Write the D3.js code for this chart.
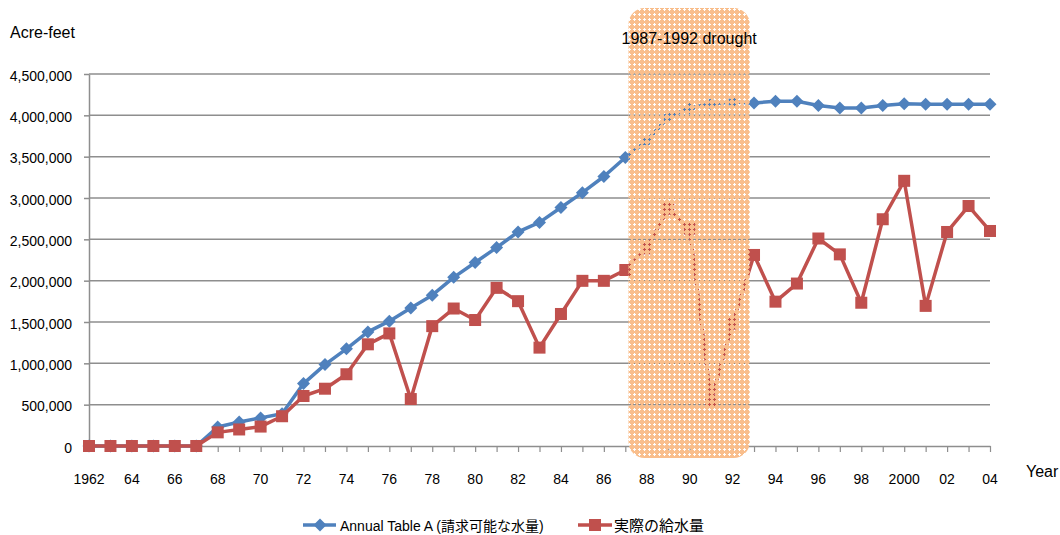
<!DOCTYPE html>
<html><head><meta charset="utf-8">
<script src="https://cdn.jsdelivr.net/npm/d3@7"></script>
<style>
body{margin:0;background:#fff}
svg{display:block}
text{font-family:"Liberation Sans",Arial,"Noto Sans CJK JP",sans-serif;fill:#000}
</style>
</head><body>
<svg id="c" width="1060" height="535"></svg>
<script>
// ---- data ----
const years = [1962,1963,1964,1965,1966,1967,1968,1969,1970,1971,1972,1973,1974,1975,1976,1977,1978,1979,1980,1981,1982,1983,1984,1985,1986,1987,1988,1989,1990,1991,1992,1993,1994,1995,1996,1997,1998,1999,2000,2001,2002,2003,2004];
const tableA = [0,0,0,0,0,0,230000,290000,340000,390000,755000,985000,1175000,1380000,1510000,1670000,1825000,2040000,2220000,2400000,2590000,2705000,2885000,3065000,3260000,3490000,3690000,3980000,4090000,4140000,4160000,4150000,4170000,4170000,4120000,4090000,4090000,4120000,4140000,4135000,4135000,4135000,4135000];
const delivered = [0,0,0,0,0,0,165000,200000,235000,360000,605000,693000,868000,1230000,1362000,568000,1450000,1663000,1524000,1913000,1752000,1190000,1597000,1998000,1998000,2129000,2391000,2870000,2630000,550000,1480000,2311000,1746000,1965000,2510000,2318000,1733000,2743000,3208000,1695000,2589000,2903000,2601000];
const yTicks = [0,500000,1000000,1500000,2000000,2500000,3000000,3500000,4000000,4500000];
const xTickYears = [1962,1964,1966,1968,1970,1972,1974,1976,1978,1980,1982,1984,1986,1988,1990,1992,1994,1996,1998,2000,2002,2004];
const xTickLabels = ["1962","64","66","68","70","72","74","76","78","80","82","84","86","88","90","92","94","96","98","2000","02","04"];
const seriesNames = ["Annual Table A (請求可能な水量)","実際の給水量"];
const droughtLabel = "1987-1992 drought";
const droughtSpan = [1987.15, 1992.8];
const yTitle = "Acre-feet", xTitle = "Year";

// ---- layout ----
const svg = d3.select("#c");
const x = d3.scaleLinear().domain([1962,2004]).range([89,990]);
const y = d3.scaleLinear().domain([0,4500000]).range([446,74]);
const blue = "#4F81BD", red = "#C0504D", orange = "#F9BE8C", grid = "#8E8E8E";
const fmt = d3.format(",");

// gridlines
svg.append("g").selectAll("line").data(yTicks.filter(d=>d>0)).join("line")
  .attr("x1", x.range()[0]).attr("x2", x.range()[1])
  .attr("y1", d=>y(d)).attr("y2", d=>y(d))
  .attr("stroke", grid).attr("stroke-width", 1.5);

// y axis
const yAxis = d3.axisLeft(y).tickValues(yTicks).tickFormat(fmt).tickSizeInner(5).tickSizeOuter(0).tickPadding(12);
const gy = svg.append("g").attr("transform", `translate(${x.range()[0]},0)`).call(yAxis);
gy.select(".domain").attr("stroke", grid).attr("stroke-width", 1.5);
gy.selectAll(".tick line").attr("stroke", grid).attr("stroke-width", 1.5);
gy.selectAll(".tick text").attr("font-size", 14).attr("font-family", null).attr("dy", "0.45em").attr("fill","#000");

// x axis
const xAxis = d3.axisBottom(x).tickValues(years).tickFormat(()=>"").tickSizeInner(6).tickSizeOuter(0);
const gx = svg.append("g").attr("transform", `translate(0,${y(0)})`).call(xAxis);
gx.select(".domain").attr("stroke", grid).attr("stroke-width", 1.5);
gx.selectAll(".tick line").attr("stroke", grid).attr("stroke-width", 1.2);
svg.append("g").selectAll("text").data(xTickYears).join("text")
  .attr("x", d=>x(d)).attr("y", 484).attr("text-anchor","middle")
  .attr("font-size", 14).text((d,i)=>xTickLabels[i]);

// titles
svg.append("text").attr("x", 10).attr("y", 38).attr("font-size", 16).text(yTitle);
svg.append("text").attr("x", 1026).attr("y", 477).attr("font-size", 16).text(xTitle);

// series
const pts = (vals)=> years.map((yr,i)=>[x(yr), y(vals[i])]);
const line = d3.line();
const diamond = "M0,-6.5L6.5,0L0,6.5L-6.5,0Z";

const gBlue = svg.append("g");
gBlue.append("path").attr("d", line(pts(tableA))).attr("fill","none")
  .attr("stroke", blue).attr("stroke-width", 3.5).attr("stroke-linejoin","round");
gBlue.selectAll("path.m").data(pts(tableA)).join("path").attr("class","m")
  .attr("d", diamond).attr("transform", d=>`translate(${d[0]},${d[1]})`).attr("fill", blue);

const gRed = svg.append("g");
gRed.append("path").attr("d", line(pts(delivered))).attr("fill","none")
  .attr("stroke", red).attr("stroke-width", 3.5).attr("stroke-linejoin","round");
gRed.selectAll("rect").data(pts(delivered)).join("rect")
  .attr("x", d=>d[0]-6).attr("y", d=>d[1]-6).attr("width", 12).attr("height", 12).attr("fill", red);

// drought box with perforated pattern
const defs = svg.append("defs");
const pat = defs.append("pattern").attr("id","dots").attr("patternUnits","userSpaceOnUse")
  .attr("width", 5).attr("height", 5);
pat.append("rect").attr("x",0).attr("y",0).attr("width",4).attr("height",4).attr("fill",orange);
pat.append("rect").attr("x",4).attr("y",1).attr("width",1).attr("height",2).attr("fill",orange);
pat.append("rect").attr("x",1).attr("y",4).attr("width",2).attr("height",1).attr("fill",orange);
const bx0 = x(droughtSpan[0]), bx1 = x(droughtSpan[1]);
svg.append("rect").attr("x", bx0).attr("y", y.range()[1]-66).attr("width", bx1-bx0)
  .attr("height", y.range()[0]+12-(y.range()[1]-66)).attr("rx", 16).attr("ry", 16)
  .attr("fill","url(#dots)");
svg.append("text").attr("x", (bx0+bx1)/2).attr("y", 44).attr("text-anchor","middle")
  .attr("font-size", 16).text(droughtLabel);

// legend
const lg = svg.append("g");
lg.append("line").attr("x1",303).attr("x2",336).attr("y1",525).attr("y2",525).attr("stroke",blue).attr("stroke-width",3.5);
lg.append("path").attr("d", diamond).attr("transform","translate(320,525)").attr("fill",blue);
lg.append("text").attr("x",340).attr("y",531).attr("font-size",14).text(seriesNames[0]);
lg.append("line").attr("x1",578).attr("x2",612).attr("y1",525).attr("y2",525).attr("stroke",red).attr("stroke-width",3.5);
lg.append("rect").attr("x",589).attr("y",519).attr("width",12).attr("height",12).attr("fill",red);
lg.append("text").attr("x",614).attr("y",531).attr("font-size",15).text(seriesNames[1]);
</script>
</body></html>
